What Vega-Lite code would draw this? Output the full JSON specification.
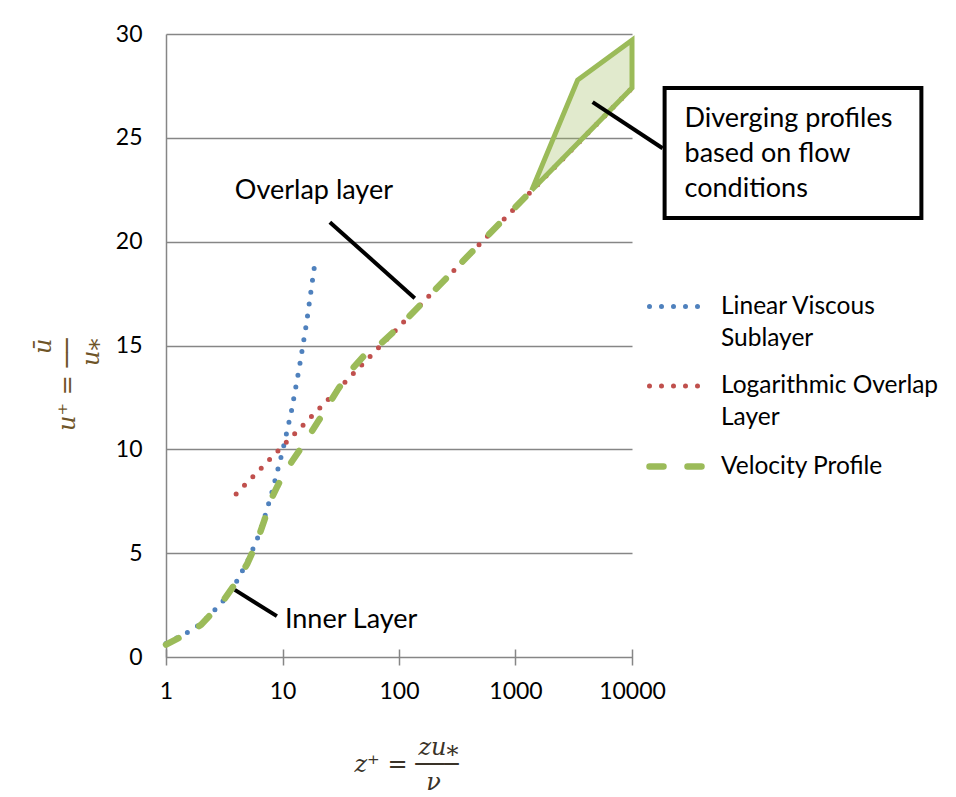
{
  "$schema": "https://vega.github.io/schema/vega-lite/v6.json",
  "width": 466,
  "height": 623,
  "autosize": {"type": "none"},
  "padding": {"left": 166, "top": 34, "right": 324, "bottom": 140},
  "background": "white",
  "config": {
    "view": {"stroke": null},
    "style": {"guide-label": {"lineHeight": 32}}
  },
  "datasets": {
    "region": [
      {"z": 1377, "lo": 22.47, "hi": 22.47},
      {"z": 3415, "lo": 24.74, "hi": 27.78},
      {"z": 10000, "lo": 27.4, "hi": 29.7}
    ],
    "curves": [
      {"series": "Linear Viscous Sublayer", "z": 1, "u": 0.65},
      {"series": "Linear Viscous Sublayer", "z": 1.5, "u": 1.15},
      {"series": "Linear Viscous Sublayer", "z": 2, "u": 1.6},
      {"series": "Linear Viscous Sublayer", "z": 3, "u": 2.6},
      {"series": "Linear Viscous Sublayer", "z": 4, "u": 3.6},
      {"series": "Linear Viscous Sublayer", "z": 5, "u": 4.6},
      {"series": "Linear Viscous Sublayer", "z": 6, "u": 5.6},
      {"series": "Linear Viscous Sublayer", "z": 7, "u": 6.7},
      {"series": "Linear Viscous Sublayer", "z": 8, "u": 7.8},
      {"series": "Linear Viscous Sublayer", "z": 10, "u": 9.9},
      {"series": "Linear Viscous Sublayer", "z": 12, "u": 11.9},
      {"series": "Linear Viscous Sublayer", "z": 14, "u": 14},
      {"series": "Linear Viscous Sublayer", "z": 16, "u": 16},
      {"series": "Linear Viscous Sublayer", "z": 19, "u": 19},
      {"series": "Logarithmic Overlap Layer", "z": 4, "u": 7.85},
      {"series": "Logarithmic Overlap Layer", "z": 10, "u": 10.15},
      {"series": "Logarithmic Overlap Layer", "z": 100, "u": 15.9},
      {"series": "Logarithmic Overlap Layer", "z": 1000, "u": 21.65},
      {"series": "Logarithmic Overlap Layer", "z": 10000, "u": 27.4},
      {"series": "Velocity Profile", "z": 1, "u": 0.6},
      {"series": "Velocity Profile", "z": 1.5, "u": 1.1},
      {"series": "Velocity Profile", "z": 2, "u": 1.55},
      {"series": "Velocity Profile", "z": 3, "u": 2.6},
      {"series": "Velocity Profile", "z": 4, "u": 3.6},
      {"series": "Velocity Profile", "z": 5, "u": 4.5},
      {"series": "Velocity Profile", "z": 6, "u": 5.5},
      {"series": "Velocity Profile", "z": 7, "u": 6.6},
      {"series": "Velocity Profile", "z": 8, "u": 7.6},
      {"series": "Velocity Profile", "z": 9, "u": 8.2},
      {"series": "Velocity Profile", "z": 10, "u": 8.7},
      {"series": "Velocity Profile", "z": 12, "u": 9.4},
      {"series": "Velocity Profile", "z": 15, "u": 10.2},
      {"series": "Velocity Profile", "z": 20, "u": 11.3},
      {"series": "Velocity Profile", "z": 30, "u": 12.9},
      {"series": "Velocity Profile", "z": 40, "u": 13.9},
      {"series": "Velocity Profile", "z": 50, "u": 14.5},
      {"series": "Velocity Profile", "z": 70, "u": 15.1},
      {"series": "Velocity Profile", "z": 100, "u": 15.9},
      {"series": "Velocity Profile", "z": 1377, "u": 22.47}
    ],
    "outline": [
      {"i": 0, "z": 1377, "u": 22.47},
      {"i": 1, "z": 3415, "u": 27.78},
      {"i": 2, "z": 10000, "u": 29.7},
      {"i": 3, "z": 10000, "u": 27.4},
      {"i": 4, "z": 1377, "u": 22.47}
    ],
    "leaders": [
      {"z1": 25.5, "u1": 20.94, "z2": 136.6, "u2": 17.28},
      {"z1": 3.9, "u1": 3.23, "z2": 8.95, "u2": 1.97},
      {"z1": 4592, "u1": 26.72, "z2": 18300, "u2": 24.5}
    ],
    "box": [
      {"z1": 19050, "z2": 3048000, "u1": 27.4, "u2": 21.14}
    ],
    "notes": [
      {"z": 3.9, "u": 22.05, "t": "Overlap layer"},
      {"z": 10.49, "u": 1.4, "t": "Inner Layer"},
      {"z": 28250, "u": 25.53, "t": "Diverging profiles"},
      {"z": 28250, "u": 23.85, "t": "based on flow"},
      {"z": 28250, "u": 22.16, "t": "conditions"}
    ]
  },
  "layer": [
    {
      "data": {"name": "region"},
      "mark": {"type": "area", "fill": "#9BBB59", "fillOpacity": 0.3},
      "encoding": {
        "x": {"field": "z", "type": "quantitative", "scale": {"type": "log", "domain": [1, 10000], "nice": false},
          "axis": {
            "values": [1, 10, 100, 1000, 10000], "format": "d", "grid": false, "domain": false,
            "offset": -8, "tickSize": 16, "tickColor": "#868686", "tickWidth": 1.5,
            "labelFont": "Lato", "labelFontSize": 23, "labelColor": "#000", "labelPadding": 15, "labelFlush": false,
            "title": ["zu\u204e", "z\u207a\u00a0= \u2500\u2500\u2500", "\u03bd\u2800"],
            "titleFont": "DejaVu Serif", "titleFontStyle": "italic", "titleFontWeight": "normal", "titleFontSize": 24,
            "titleColor": "#3a3328", "titleAlign": "right", "titleBaseline": "alphabetic", "titleLineHeight": 17.5,
            "titleX": 292, "titleY": 105, "titleAngle": 0
          }},
        "y": {"field": "lo", "type": "quantitative", "scale": {"domain": [0, 30], "nice": false},
          "axis": {
            "values": [0, 5, 10, 15, 20, 25, 30], "grid": true, "gridColor": "#868686", "gridWidth": 1.5,
            "domainColor": "#868686", "domainWidth": 1.5, "ticks": false, "tickSize": 0,
            "labelFont": "Lato", "labelFontSize": 23, "labelColor": "#000", "labelPadding": 24,
            "title": ["\u016b", "u\u207a\u00a0= \u2500\u2500", "u\u204e"],
            "titleFont": "DejaVu Serif", "titleFontStyle": "italic", "titleFontWeight": "normal", "titleFontSize": 24,
            "titleColor": "#6e5427", "titleAlign": "right", "titleBaseline": "alphabetic", "titleLineHeight": 24,
            "titleX": -116, "titleY": 304, "titleAngle": 270
          }},
        "y2": {"field": "hi"}
      }
    },
    {
      "data": {"name": "curves"},
      "mark": {"type": "line", "strokeCap": "round", "strokeJoin": "round"},
      "encoding": {
        "x": {"field": "z", "type": "quantitative", "scale": {"type": "log", "domain": [1, 10000], "nice": false}},
        "y": {"field": "u", "type": "quantitative", "scale": {"domain": [0, 30], "nice": false}},
        "color": {"field": "series", "type": "nominal",
          "scale": {"domain": ["Linear Viscous Sublayer", "Logarithmic Overlap Layer", "Velocity Profile"], "range": ["#4F81BD", "#C0504D", "#9BBB59"]},
          "legend": {
            "title": null, "orient": "none", "legendX": 480, "legendY": 240, "padding": 0,
            "symbolType": "stroke", "symbolSize": 3600, "labelFont": "Lato", "labelFontSize": 24.5, "labelColor": "#000",
            "labelOffset": 8, "labelLimit": 400, "rowPadding": 3.5,
            "labelExpr": "datum.label == 'Linear Viscous Sublayer' ? ['Linear Viscous', 'Sublayer'] : datum.label == 'Logarithmic Overlap Layer' ? ['Logarithmic Overlap', 'Layer'] : datum.label",
            "encoding": {"symbols": {"strokeCap": {"value": "round"}}, "labels": {"lineHeight": {"value": 32}}}
          }},
        "strokeDash": {"field": "series", "type": "nominal",
          "scale": {"domain": ["Linear Viscous Sublayer", "Logarithmic Overlap Layer", "Velocity Profile"], "range": [[0, 12], [0, 12], [14, 24]]},
          "legend": {"title": null}},
        "strokeWidth": {"field": "series", "type": "nominal",
          "scale": {"type": "ordinal", "domain": ["Linear Viscous Sublayer", "Logarithmic Overlap Layer", "Velocity Profile"], "range": [5, 5, 6.5]},
          "legend": {"title": null}}
      }
    },
    {
      "data": {"name": "outline"},
      "mark": {"type": "line", "color": "#9BBB59", "strokeWidth": 5},
      "encoding": {
        "x": {"field": "z", "type": "quantitative", "scale": {"type": "log", "domain": [1, 10000], "nice": false}},
        "y": {"field": "u", "type": "quantitative", "scale": {"domain": [0, 30], "nice": false}},
        "order": {"field": "i", "type": "quantitative"}
      }
    },
    {
      "data": {"name": "leaders"},
      "mark": {"type": "rule", "color": "#000", "strokeWidth": 4},
      "encoding": {
        "x": {"field": "z1", "type": "quantitative", "scale": {"type": "log", "domain": [1, 10000], "nice": false}},
        "x2": {"field": "z2"},
        "y": {"field": "u1", "type": "quantitative", "scale": {"domain": [0, 30], "nice": false}},
        "y2": {"field": "u2"}
      }
    },
    {
      "data": {"name": "box"},
      "mark": {"type": "rect", "fill": "#fff", "stroke": "#000", "strokeWidth": 4},
      "encoding": {
        "x": {"field": "z1", "type": "quantitative", "scale": {"type": "log", "domain": [1, 10000], "nice": false}},
        "x2": {"field": "z2"},
        "y": {"field": "u1", "type": "quantitative", "scale": {"domain": [0, 30], "nice": false}},
        "y2": {"field": "u2"}
      }
    },
    {
      "data": {"name": "notes"},
      "mark": {"type": "text", "font": "Lato", "fontSize": 27, "align": "left", "baseline": "alphabetic", "color": "#000"},
      "encoding": {
        "x": {"field": "z", "type": "quantitative", "scale": {"type": "log", "domain": [1, 10000], "nice": false}},
        "y": {"field": "u", "type": "quantitative", "scale": {"domain": [0, 30], "nice": false}},
        "text": {"field": "t", "type": "nominal"}
      }
    }
  ]
}
